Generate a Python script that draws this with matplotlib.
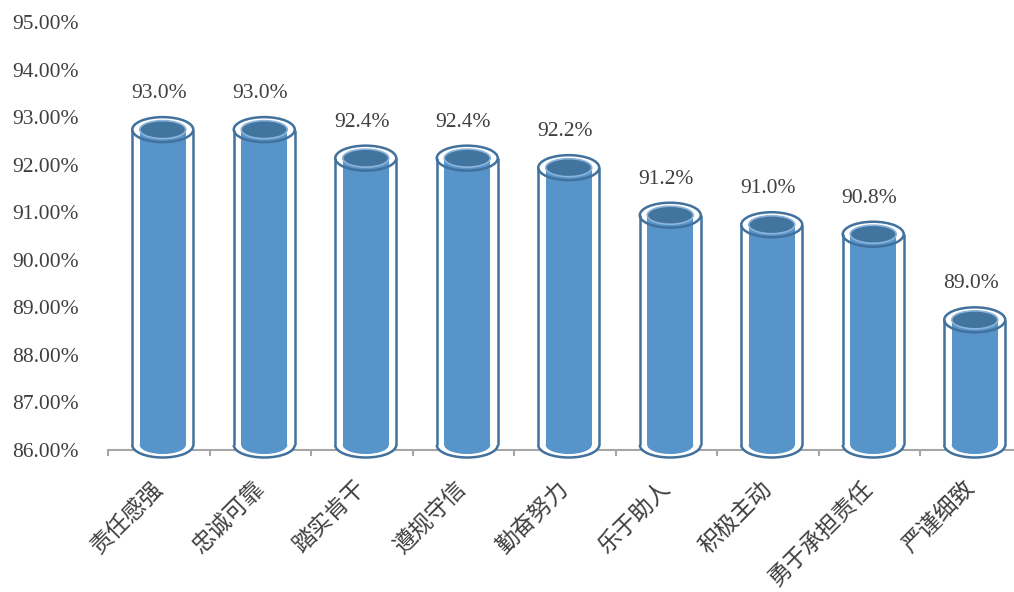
import matplotlib.pyplot as plt
from matplotlib.patches import Ellipse, Rectangle, Arc

labels = ['责任感强', '忠诚可靠', '踏实肯干', '遵规守信', '勤奋努力',
          '乐于助人', '积极主动', '勇于承担责任', '严谨细致']
values = [93.0, 93.0, 92.4, 92.4, 92.2, 91.2, 91.0, 90.8, 89.0]
yticks = [86, 87, 88, 89, 90, 91, 92, 93, 94, 95]

W, H = 1014, 592
fig = plt.figure(figsize=(W / 100, H / 100), dpi=100)
ax = fig.add_axes([108 / W, 142 / H, 913.5 / W, 428 / H])
ax.set_xlim(-0.5, 8.5)
ax.set_ylim(86, 95)

# pixel -> data helpers
ux = 913.5 / 9
uy = 428 / 9

edge = '#41719C'
body = '#5694CA'
top = '#41749F'
rim = '#8DB4DA'

out_w = 61 / ux
in_w = 46 / ux
out_h = 25 / uy
in_h = 18 / uy
base = 86 + 5 / uy
shift = 4 / ux

for i, v in enumerate(values):
    x = i + shift
    ytop = v - out_h / 2
    # outer body (white, hides axis line)
    ax.add_patch(Rectangle((x - out_w / 2, base), out_w, ytop - base,
                           facecolor='white', edgecolor='none', zorder=3, clip_on=False))
    ax.add_patch(Ellipse((x, base), out_w, out_h, facecolor='white',
                         edgecolor='none', zorder=3, clip_on=False))
    # inner cylinder
    ax.add_patch(Rectangle((x - in_w / 2, base), in_w, ytop - base,
                           facecolor=body, edgecolor='none', zorder=4, clip_on=False))
    ax.add_patch(Ellipse((x, base), in_w, in_h, facecolor=body,
                         edgecolor='none', zorder=4, clip_on=False))
    ax.add_patch(Ellipse((x, ytop), in_w, in_h, facecolor=top,
                         edgecolor=rim, linewidth=1.2, zorder=5, clip_on=False))
    # outer outline
    ax.plot([x - out_w / 2] * 2, [base, ytop], color=edge, lw=1.8, zorder=6,
            clip_on=False, solid_capstyle='butt')
    ax.plot([x + out_w / 2] * 2, [base, ytop], color=edge, lw=1.8, zorder=6,
            clip_on=False, solid_capstyle='butt')
    ax.add_patch(Ellipse((x, ytop), out_w, out_h, facecolor='none',
                         edgecolor=edge, linewidth=1.8, zorder=6, clip_on=False))
    ax.add_patch(Arc((x, base), out_w, out_h, theta1=180, theta2=360,
                     edgecolor=edge, linewidth=1.8, zorder=6, clip_on=False))
    ax.annotate(f'{v:.1f}%', (i, v), xytext=(0, 17), textcoords='offset points',
                ha='center', va='center', fontsize=15.5,
                family='Liberation Serif', color='#3F3F3F')

for s in ['left', 'right', 'top']:
    ax.spines[s].set_visible(False)
ax.spines['bottom'].set_color('#A6A6A6')
ax.spines['bottom'].set_linewidth(1.5)

ax.set_yticks(yticks)
ax.set_yticklabels([f'{t:.2f}%' for t in yticks], family='Liberation Serif',
                   fontsize=15.5, color='#3F3F3F')
ax.tick_params(axis='y', length=0, pad=21)

ax.set_xticks([i - 0.5 for i in range(len(labels) + 1)])
ax.set_xticklabels([])
ax.tick_params(axis='x', which='major', length=4, width=1.5, color='#A6A6A6')
ax.set_xticks(range(len(labels)), minor=True)
ax.set_xticklabels(labels, minor=True, rotation=45, ha='right', va='center',
                   rotation_mode='anchor', family='Noto Sans CJK SC',
                   fontsize=16.5, color='#3F3F3F')
ax.tick_params(axis='x', which='minor', length=0, pad=25)

fig.savefig('out.png', dpi=100)
